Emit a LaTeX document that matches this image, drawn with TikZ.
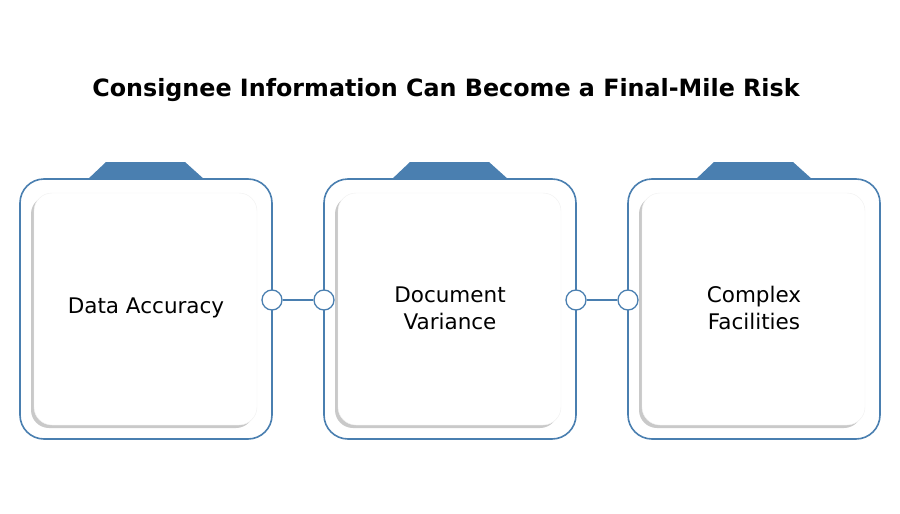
\documentclass[tikz,border=0pt]{standalone}
\usepackage{fontspec}
\setmainfont{DejaVu Sans}
\usetikzlibrary{shadows}
\definecolor{bl}{HTML}{4A7FB0}
\begin{document}
\begin{tikzpicture}[x=1pt,y=-1pt,
 outer/.style={draw=bl,line width=1.6pt,rounded corners=24pt,fill=white},
 card/.style={fill=white,draw=black!6,rounded corners=18pt,drop shadow={shadow xshift=-3pt,shadow yshift=-3pt,opacity=0.35,fill=black!60}},
 dot/.style={circle,draw=bl,line width=1.3pt,fill=white,minimum size=20pt,inner sep=0pt},
 lbl/.style={font=\fontsize{21.5}{27}\selectfont,align=center,text=black}]
\useasboundingbox (0,0) rectangle (900,514);
\node[font=\bfseries\fontsize{23.8}{27}\selectfont] (title) at (446,90) {Consignee Information Can Become a Final-Mile Risk};
\foreach \x/\n/\t/\yy in {20/a/{Data Accuracy}/308,324/b/{Document\\Variance}/308,628/c/{Complex\\Facilities}/308}{
 \fill[bl] (\x+67,180) -- (\x+86,162) -- (\x+165,162) -- (\x+185,180) -- cycle;
 \draw[outer] (\x,179) rectangle (\x+252,439);
 \path[card] (\x+14,193) rectangle (\x+237,425);
 \node[lbl] (\n) at (\x+126,\yy) {\t};
}
\node[dot] (d1) at (272,300) {};
\node[dot] (d2) at (324,300) {};
\node[dot] (d3) at (576,300) {};
\node[dot] (d4) at (628,300) {};
\draw[bl,line width=1.3pt] (d1) -- (d2);
\draw[bl,line width=1.3pt] (d3) -- (d4);
\end{tikzpicture}
\end{document}
